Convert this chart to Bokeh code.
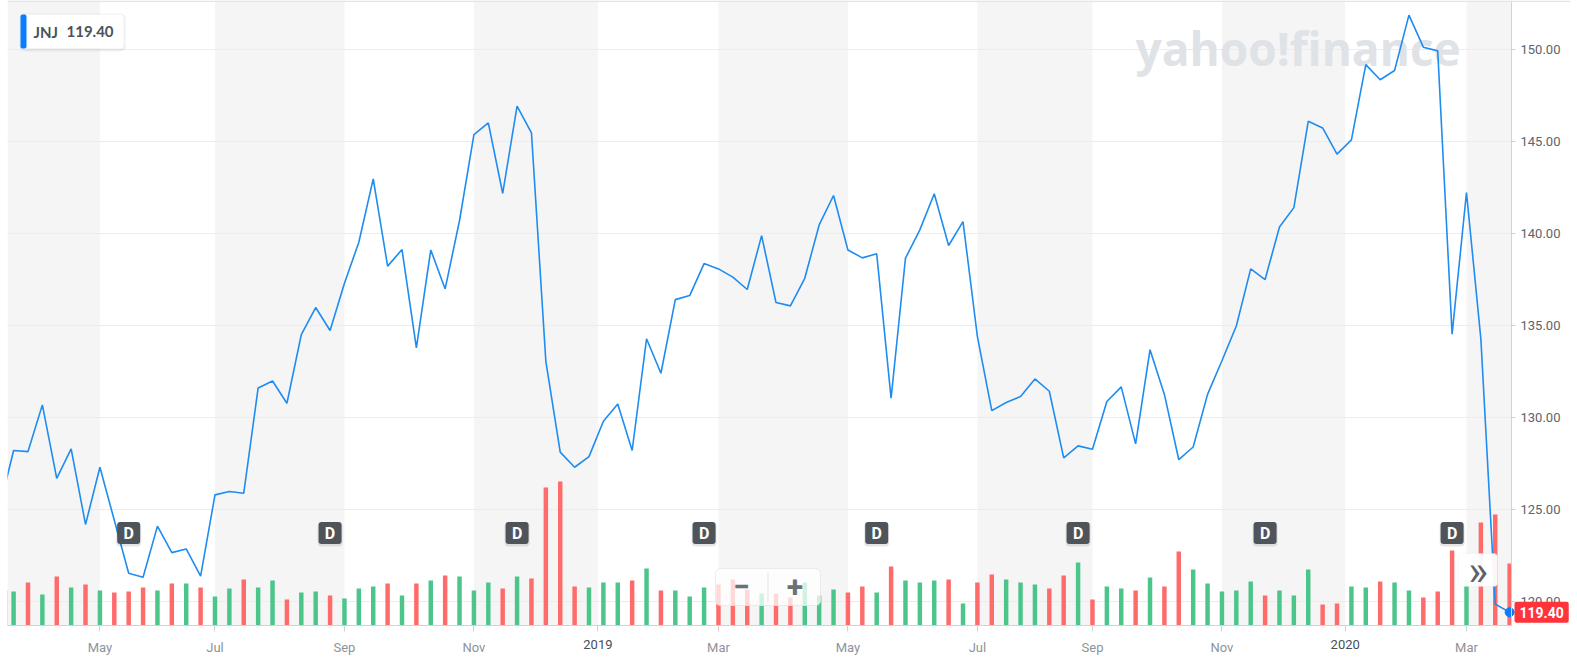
from bokeh.plotting import figure
from bokeh.models import (Range1d, FixedTicker, BoxAnnotation, Label,
                          ColumnDataSource, NumeralTickFormatter)
from bokeh.core.properties import value
from bokeh.embed import file_html
from bokeh.resources import INLINE

# ---------------- data (weekly, week 0 = week of 2018-03-19) ----------------
symbol = "JNJ"
last_price = 119.40

close = [
    125.00, 128.19, 128.13, 130.67, 126.68, 128.28, 124.17, 127.28, 124.40, 121.52,
    121.30, 124.08, 122.64, 122.84, 121.36, 125.78, 125.96, 125.87, 131.59, 131.97,
    130.76, 134.49, 135.96, 134.71, 137.28, 139.51, 142.95, 138.21, 139.11, 133.77,
    139.09, 136.97, 140.69, 145.36, 146.00, 142.17, 146.90, 145.45, 133.04, 128.10,
    127.28, 127.86, 129.78, 130.72, 128.19, 134.26, 132.39, 136.39, 136.61, 138.35,
    138.06, 137.61, 136.94, 139.87, 136.23, 136.05, 137.55, 140.45, 142.05, 139.09,
    138.66, 138.88, 131.03, 138.64, 140.18, 142.14, 139.33, 140.63, 134.38, 130.36,
    130.80, 131.12, 132.08, 131.41, 127.79, 128.44, 128.26, 130.85, 131.65, 128.55,
    133.67, 131.24, 127.69, 128.38, 131.24, 133.07, 134.96, 138.06, 137.48, 140.34,
    141.39, 146.08, 145.72, 144.30, 145.07, 149.16, 148.34, 148.84, 151.85, 150.11,
    149.91, 134.51, 142.21, 134.25, 119.84, 119.40,
]

# weekly volume, millions of shares
volume_m = [
    35, 34, 43, 31, 49, 38, 41, 35, 33, 34,
    38, 35, 42, 42, 38, 29, 37, 46, 38, 45,
    26, 33, 34, 30, 27, 37, 39, 42, 30, 42,
    45, 50, 49, 35, 43, 37, 49, 47, 138, 144,
    39, 38, 43, 43, 45, 57, 35, 35, 29, 38,
    41, 46, 36, 32, 32, 28, 43, 30, 36, 33,
    39, 33, 59, 45, 43, 45, 46, 22, 43, 51,
    46, 43, 41, 37, 50, 63, 26, 39, 37, 35,
    48, 39, 74, 56, 42, 34, 35, 44, 30, 35,
    30, 56, 21, 22, 39, 38, 44, 43, 35, 28,
    34, 75, 45, 103, 111, 62,
]

# weeks with an ex-dividend date
dividend_weeks = [9, 23, 36, 49, 61, 75, 88, 101]

# x-axis ticks (week positions) and their labels
tick_pos = [7, 15, 24, 33, 41.62, 50, 59, 68, 76, 85, 93.57, 102]
tick_labels = ["May", "Jul", "Sep", "Nov", "2019", "Mar", "May", "Jul", "Sep", "Nov", "2020", "Mar"]
year_labels = ["2019", "2020"]

price_ticks = [120, 125, 130, 135, 140, 145, 150]

# ---------------- layout constants ----------------
FL, FT = 7, 0                 # frame left / top in picture pixels
FRAME_W, FRAME_H = 1563, 656
FB = FT + FRAME_H
PX_WEEK = 14.385              # pixels per week
PX_PRICE = 18.4               # pixels per 1.00 of price


def week_at(px):
    return 1 + (px - 13.1) / PX_WEEK


def price_at(py):
    return 145 - (py - 140.7) / PX_PRICE


X_LEFT, X_RIGHT = week_at(FL), week_at(FL + FRAME_W)
X_AXIS = week_at(1511)        # where the price axis sits
Y_TOP, Y_BOTTOM = price_at(FT), price_at(FB)
Y_AXIS = price_at(625)        # where the time axis sits
D_ROW = price_at(532.5)       # level of the dividend badges
D_SHADOW = price_at(534)
VOL_PX = FB - 625             # volume baseline offset (px) from frame bottom


def sx(px):
    return px - FL


def sy(py):
    return FB - py


weeks = list(range(len(close)))
up = [True] + [close[i] >= close[i - 1] for i in range(1, len(close))]
GREEN, RED = "#4cc58b", "#ff6a6a"
bar_colors = [GREEN if u else RED for u in up]

p = figure(frame_width=FRAME_W, frame_height=FRAME_H,
           x_range=Range1d(X_LEFT, X_RIGHT), y_range=Range1d(Y_BOTTOM, Y_TOP),
           y_axis_location="right", toolbar_location=None, output_backend="svg",
           min_border=0, min_border_left=FL, min_border_top=FT,
           background_fill_color="white", border_fill_color="white",
           outline_line_color=None)
# volume scale: 1 million shares = 1 px, baseline on the time axis
p.extra_y_ranges = {"vol": Range1d(-VOL_PX, FRAME_H - VOL_PX)}

# alternating two-month bands
bounds = [X_LEFT] + tick_pos + [X_AXIS]
for k in range(0, len(bounds) - 1, 2):
    p.add_layout(BoxAnnotation(left=bounds[k], right=bounds[k + 1],
                               bottom=Y_AXIS,
                               fill_color="#f5f5f5", fill_alpha=1.0,
                               line_color=None, level="image"))

# grid / axes
p.xgrid.visible = False
p.ygrid.ticker = FixedTicker(ticks=price_ticks)
p.ygrid.grid_line_color = "#ececec"
p.ygrid.grid_line_width = 1
# keep grid lines inside the chart area (not under the price labels)
p.add_layout(BoxAnnotation(left=X_AXIS, fill_color="white", fill_alpha=1.0,
                           line_color=None, level="underlay"))

ya = p.yaxis[0]
ya.fixed_location = X_AXIS
ya.bounds = (Y_AXIS, Y_TOP)
ya.ticker = FixedTicker(ticks=price_ticks)
ya.formatter = NumeralTickFormatter(format="0.00")
ya.axis_line_color = "#cfd3d7"
ya.major_tick_line_color = "#cfd3d7"
ya.major_tick_out = 4
ya.major_tick_in = 0
ya.minor_tick_line_color = None
ya.major_label_standoff = 5
ya.major_label_text_font = "Roboto"
ya.major_label_text_font_size = "13px"
ya.major_label_text_color = "#5d646b"

xa = p.xaxis[0]
xa.fixed_location = Y_AXIS
xa.bounds = (X_LEFT, X_AXIS)
xa.ticker = FixedTicker(ticks=tick_pos)
xa.major_label_overrides = {pos: ("" if lab in year_labels else lab)
                            for pos, lab in zip(tick_pos, tick_labels)}
xa.axis_line_color = "#cfd3d7"
xa.major_tick_line_color = "#cfd3d7"
xa.major_tick_out = 6
xa.major_tick_in = 0
xa.minor_tick_line_color = None
xa.major_label_standoff = 8
xa.major_label_text_font = "Roboto"
xa.major_label_text_font_size = "13px"
xa.major_label_text_color = "#8d939a"

for pos, lab in zip(tick_pos, tick_labels):
    if lab in year_labels:
        p.add_layout(Label(x=pos, y=price_at(625 + 6 + 8),
                           text=lab, text_align="center", text_baseline="top",
                           text_font="Roboto", text_font_size="13px",
                           text_color="#474e56"))

# top border line
p.add_layout(BoxAnnotation(top=sy(0), bottom=sy(1.5), top_units="screen",
                           bottom_units="screen", fill_color="#e1e5ea",
                           fill_alpha=1.0, line_color=None))

# watermark
p.add_layout(Label(x=sx(1135), y=sy(47), x_units="screen", y_units="screen",
                   text="yahoo!finance", text_font="Open Sans",
                   text_font_style="bold", text_font_size="46px",
                   text_color="#dfe2e6", text_baseline="alphabetic",
                   level="underlay"))

# volume bars
src = ColumnDataSource(dict(x=weeks, close=close, vol=volume_m, color=bar_colors))
p.vbar(x="x", top="vol", bottom=0, width=0.31, source=src, y_range_name="vol",
       fill_color="color", line_color=None)

# price line
p.line(x="x", y="close", source=src, line_color="#1e8cf0", line_width=1.6)
p.scatter(x=[weeks[-1]], y=[close[-1]], size=9, fill_color="#0b7ef5",
          line_color="#0b7ef5")

# dividend badges
d_src = ColumnDataSource(dict(x=dividend_weeks, y=[D_ROW] * len(dividend_weeks),
                              ys=[D_SHADOW] * len(dividend_weeks),
                              t=["D"] * len(dividend_weeks)))
try:
    p.rect("x", "ys", width=25, height=24, width_units="screen", height_units="screen",
           source=d_src, fill_color="black", fill_alpha=0.10, line_color=None,
           border_radius=4)
    p.rect("x", "y", width=23, height=22, width_units="screen", height_units="screen",
           source=d_src, fill_color="#4f545a", line_color=None, border_radius=3)
except Exception:
    p.rect("x", "y", width=23, height=22, width_units="screen", height_units="screen",
           source=d_src, fill_color="#4f545a", line_color=None)
p.text("x", "y", text="t", source=d_src, text_color="white",
       text_font=value("Roboto"), text_font_style="bold", text_font_size="16px",
       text_align="center", text_baseline="middle")


def screen_box(l, r, t, b, **kw):
    return BoxAnnotation(left=sx(l), right=sx(r), top=sy(t), bottom=sy(b),
                         left_units="screen", right_units="screen",
                         top_units="screen", bottom_units="screen", **kw)


# legend chip "JNJ 119.40"
p.add_layout(screen_box(19, 125, 13, 51, fill_color="black", fill_alpha=0.06,
                        line_color=None, border_radius=5))
p.add_layout(screen_box(20, 123, 14, 48, fill_color="white", fill_alpha=1.0,
                        line_color=None, border_radius=4))
p.add_layout(screen_box(20, 26, 14, 48, fill_color="#0a7cff", fill_alpha=1.0,
                        line_color=None, border_radius=2))
p.add_layout(Label(x=sx(33), y=sy(31), x_units="screen", y_units="screen",
                   text=symbol, text_font="Lato", text_font_style="bold",
                   text_font_size="15px", text_color="#4a525a",
                   text_baseline="middle"))
p.add_layout(Label(x=sx(66), y=sy(31), x_units="screen", y_units="screen",
                   text=f"{last_price:.2f}", text_font="Lato", text_font_style="bold",
                   text_font_size="15px", text_color="#4a525a",
                   text_baseline="middle"))

# zoom control overlay
p.add_layout(screen_box(715, 820, 568, 605, fill_color="white", fill_alpha=0.75,
                        line_color="#e6e6e6", line_alpha=0.8, border_radius=5))
p.add_layout(screen_box(767, 768, 572, 601, fill_color="#e3e3e3", fill_alpha=1.0,
                        line_color=None))
for cx, sym in ((741, "\u2212"), (794.5, "+")):
    p.add_layout(Label(x=sx(cx), y=sy(586), x_units="screen", y_units="screen",
                       text=sym, text_font="Roboto", text_font_style="bold",
                       text_font_size="30px", text_color="#6b7075",
                       text_align="center", text_baseline="middle"))

# "more" button
p.add_layout(screen_box(1458, 1497, 553, 586, fill_color="white", fill_alpha=0.95,
                        line_color="#e3e3e3", border_radius=4))
p.add_layout(Label(x=sx(1477.5), y=sy(570), x_units="screen", y_units="screen",
                   text="\u00bb", text_font="Roboto", text_font_size="42px",
                   text_color="#5b636a", text_align="center", text_baseline="middle"))

# last price tag on the axis
p.add_layout(Label(x=X_AXIS, y=last_price, x_offset=3, text=f"{last_price:.2f}",
                   text_font="Roboto", text_font_style="bold", text_font_size="14px",
                   text_color="white", text_baseline="middle", text_align="left",
                   background_fill_color="#ff333a", background_fill_alpha=1.0,
                   padding=5, border_radius=2))

open("out.html", "w").write(file_html(p, INLINE))
